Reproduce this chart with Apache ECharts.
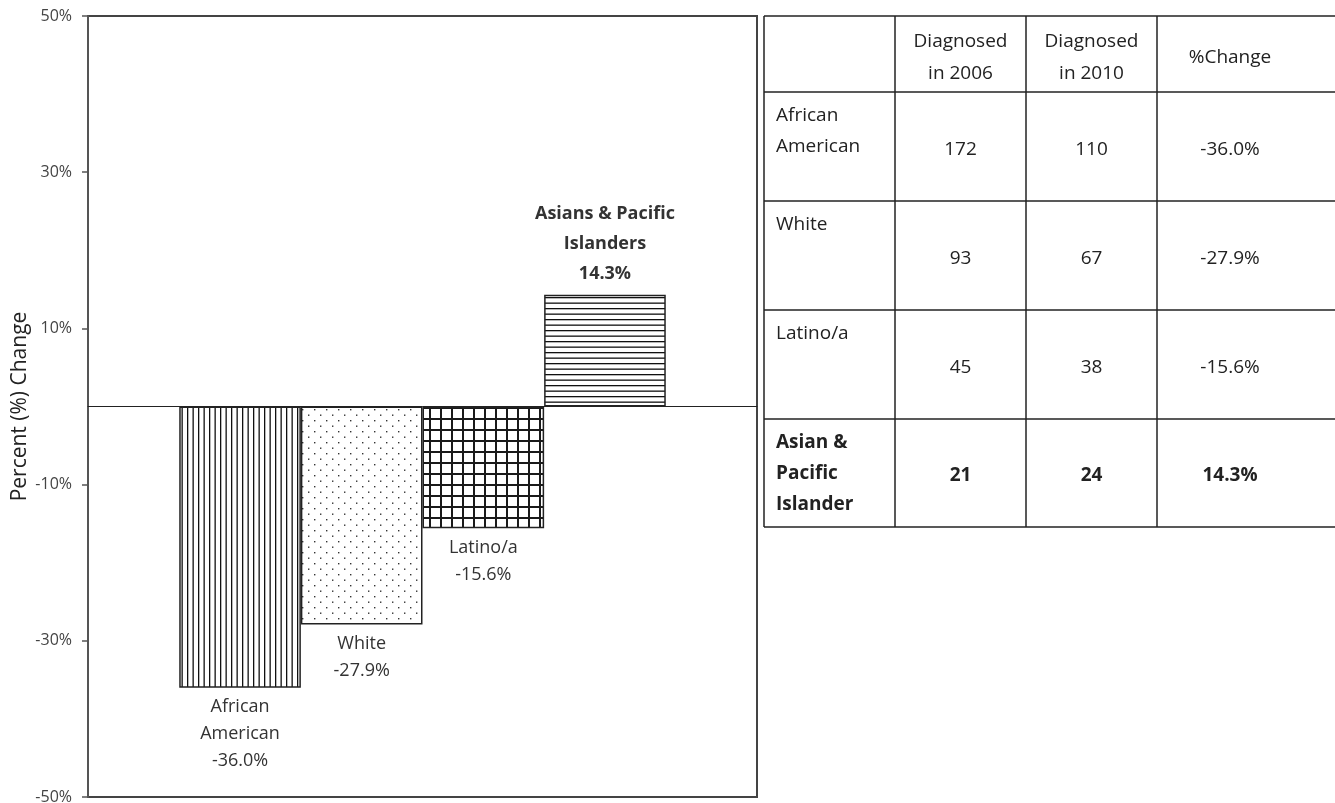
<!DOCTYPE html>
<html><head><meta charset="utf-8">
<script src="https://cdn.jsdelivr.net/npm/echarts@6/dist/echarts.min.js"></script>
<style>html,body{margin:0;padding:0;background:#fff}#c{width:1335px;height:803px}</style>
</head><body><div id="c"></div>
<script>
// ---- data ----
const categories = ['African American', 'White', 'Latino/a', 'Asian & Pacific Islander'];
const barLabels = ['African\nAmerican', 'White', 'Latino/a', 'Asians & Pacific\nIslanders'];
const pctChange = [-36.0, -27.9, -15.6, 14.3];
const yTickValues = [-50, -30, -10, 10, 30, 50];
const tableHeaders = ['', 'Diagnosed\nin 2006', 'Diagnosed\nin 2010', '%Change'];
const tableRowLabels = ['African\nAmerican', 'White', 'Latino/a', 'Asian &\nPacific\nIslander'];
const diagnosed2006 = [172, 93, 45, 21];
const diagnosed2010 = [110, 67, 38, 24];

const FONT = '"Open Sans", Lato, sans-serif';

// ---- hatch patterns ----
function makePattern(type) {
  const c = document.createElement('canvas');
  const ctx = c.getContext('2d');
  if (type === 'vlines') {
    c.width = 11; c.height = 4;
    ctx.fillStyle = '#fff'; ctx.fillRect(0, 0, 11, 4);
    ctx.fillStyle = '#111'; ctx.fillRect(0, 0, 1.3, 4); ctx.fillRect(5.5, 0, 1.3, 4);
  } else if (type === 'dots') {
    c.width = 12; c.height = 11;
    ctx.fillStyle = '#fff'; ctx.fillRect(0, 0, 12, 11);
    ctx.fillStyle = '#333'; ctx.fillRect(2, 2, 1.4, 1.4); ctx.fillRect(8, 7.5, 1.4, 1.4);
  } else if (type === 'grid') {
    c.width = 11; c.height = 11;
    ctx.fillStyle = '#fff'; ctx.fillRect(0, 0, 11, 11);
    ctx.fillStyle = '#1a1a1a'; ctx.fillRect(0, 0, 2, 11); ctx.fillRect(0, 0, 11, 2);
  } else {
    c.width = 4; c.height = 11;
    ctx.fillStyle = '#fff'; ctx.fillRect(0, 0, 4, 11);
    ctx.fillStyle = '#111'; ctx.fillRect(0, 0, 4, 1.3); ctx.fillRect(0, 5.5, 4, 1.3);
  }
  return { image: c, repeat: 'repeat' };
}
const patterns = ['vlines', 'dots', 'grid', 'hlines'].map(makePattern);

const fmtPct = v => v.toFixed(1) + '%';

const barData = pctChange.map((v, i) => ({
  value: [i, v],
  itemStyle: { color: patterns[i] },
  label: {
    position: v < 0 ? 'bottom' : 'top',
    fontWeight: v > 0 ? 'bold' : 'normal',
    lineHeight: v > 0 ? 30 : 27,
    formatter: barLabels[i] + '\n' + fmtPct(v)
  }
}));

// ---- table (graphic) ----
const colEdges = [764, 895, 1026, 1157, 1303];   // last edge only used for centring (table runs off the right side)
const tableRight = 1345;
const rowEdges = [16, 92, 201, 310, 419, 527];
const graphics = [];
rowEdges.forEach(y => graphics.push({
  type: 'line', shape: { x1: colEdges[0], y1: y, x2: tableRight, y2: y },
  style: { stroke: '#222', lineWidth: 1.5 }
}));
colEdges.slice(0, 4).forEach(x => graphics.push({
  type: 'line', shape: { x1: x, y1: rowEdges[0], x2: x, y2: rowEdges[5] },
  style: { stroke: '#222', lineWidth: 1.5 }
}));
tableHeaders.forEach((h, c) => {
  if (!h) return;
  graphics.push({
    type: 'text',
    style: {
      text: h, x: (colEdges[c] + colEdges[c + 1]) / 2, y: (rowEdges[0] + rowEdges[1]) / 2 + 4,
      align: 'center', verticalAlign: 'middle', font: '19px ' + FONT, fill: '#222', lineHeight: 32
    }
  });
});
tableRowLabels.forEach((lab, r) => {
  const top = rowEdges[r + 1], bot = rowEdges[r + 2];
  const bold = r === tableRowLabels.length - 1;
  const fw = bold ? 'bold ' : '';
  graphics.push({
    type: 'text',
    style: { text: lab, x: colEdges[0] + 12, y: top + 8, align: 'left', verticalAlign: 'top',
      font: fw + '19px ' + FONT, fill: '#222', lineHeight: 31 }
  });
  const vals = [String(diagnosed2006[r]), String(diagnosed2010[r]), fmtPct(pctChange[r])];
  vals.forEach((t, c) => {
    graphics.push({
      type: 'text',
      style: { text: t, x: (colEdges[c + 1] + colEdges[c + 2]) / 2, y: (top + bot) / 2 + 3,
        align: 'center', verticalAlign: 'middle', font: fw + '19px ' + FONT, fill: '#222' }
    });
  });
});

const chart = echarts.init(document.getElementById('c'), null, { renderer: 'canvas' });
chart.setOption({
  backgroundColor: '#fff',
  animation: false,
  textStyle: { fontFamily: FONT },
  grid: { left: 88, right: 578, top: 16, bottom: 6, show: true, borderColor: '#444', borderWidth: 2,
    containLabel: false, outerBoundsMode: 'none' },
  xAxis: {
    type: 'value', min: -1.25, max: 4.25,
    axisLine: { show: true, onZero: true, lineStyle: { color: '#222', width: 1 } },
    axisTick: { show: false }, axisLabel: { show: false }, splitLine: { show: false }
  },
  yAxis: {
    type: 'value', min: yTickValues[0], max: yTickValues[yTickValues.length - 1], interval: 20,
    name: 'Percent (%) Change', nameLocation: 'middle', nameGap: 57, nameRotate: 90,
    nameMoveOverlap: false,
    nameTextStyle: { fontSize: 21, color: '#222', fontFamily: FONT },
    axisLine: { show: true, onZero: false, lineStyle: { color: '#555', width: 2 } },
    axisTick: { show: true, length: 6, lineStyle: { color: '#555', width: 1.5 } },
    axisLabel: { formatter: v => v + '%', fontSize: 16, color: '#444', margin: 16 },
    splitLine: { show: false }
  },
  series: [{
    type: 'bar',
    name: 'Percent change',
    data: barData,
    barWidth: '100%',
    itemStyle: { borderColor: '#222', borderWidth: 1.5 },
    label: { show: true, fontSize: 18, color: '#333', distance: 6, align: 'center' }
  }],
  graphic: graphics
});
</script>
</body></html>
